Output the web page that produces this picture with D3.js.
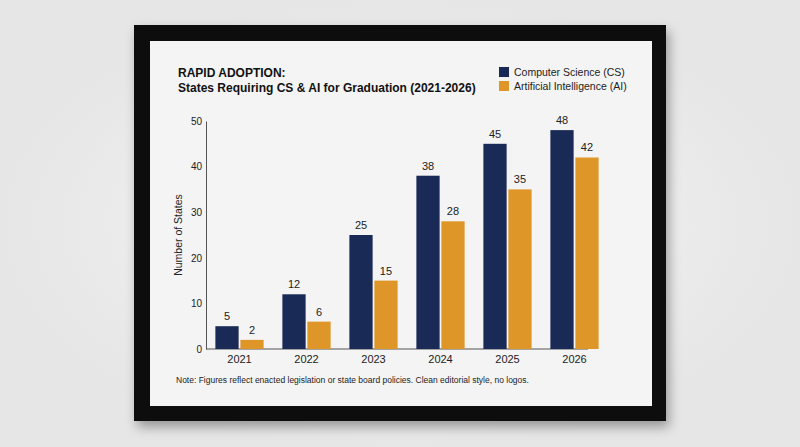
<!DOCTYPE html>
<html><head><meta charset="utf-8">
<script src="https://cdn.jsdelivr.net/npm/d3@7"></script>
<style>body{margin:0;background:#eeeeee;}svg{display:block;font-family:"Liberation Sans",Arial,sans-serif;}</style>
</head><body><svg id="c" width="800" height="447"></svg>
<script>
const years = ["2021","2022","2023","2024","2025","2026"];
const csValues = [5,12,25,38,45,48];
const aiValues = [2,6,15,28,35,42];
const seriesNames = ["Computer Science (CS)","Artificial Intelligence (AI)"];
const colors = ["#1a2a57","#de9628"];
const yTicks = [0,10,20,30,40,50];

const svg = d3.select("#c");
const defs = svg.append("defs");
const g0 = defs.append("radialGradient").attr("id","bg");
g0.append("stop").attr("offset","0%").attr("stop-color","#f7f7f7");
g0.append("stop").attr("offset","100%").attr("stop-color","#e6e6e6");
svg.append("rect").attr("width",800).attr("height",447).attr("fill","url(#bg)");
const f = defs.append("filter").attr("id","sh").attr("x","-10%").attr("y","-10%").attr("width","130%").attr("height","130%");
f.append("feDropShadow").attr("dx",3).attr("dy",6).attr("stdDeviation",6).attr("flood-opacity",0.35);
svg.append("rect").attr("x",134).attr("y",25).attr("width",532).attr("height",396).attr("fill","#0c0c0c").attr("filter","url(#sh)");
svg.append("rect").attr("x",150).attr("y",41).attr("width",502).attr("height",365).attr("fill","#f4f4f4");

const x = d3.scaleBand().domain(years).range([206,608]).paddingInner(0.28).paddingOuter(0.14);
const sub = d3.scaleBand().domain([0,1]).range([0,x.bandwidth()]).paddingInner(0.07);
const y = d3.scaleLinear().domain([0,50]).range([349,121]);

const gy = svg.append("g").attr("transform","translate(206,0)")
  .call(d3.axisLeft(y).tickValues(yTicks).tickSize(0).tickPadding(4));
gy.select(".domain").attr("stroke","#555");
gy.selectAll("text").attr("font-size",10).attr("fill","#222");
const gx = svg.append("g").attr("transform","translate(0,349)")
  .call(d3.axisBottom(x).tickSize(0).tickPadding(6));
gx.select(".domain").attr("stroke","#555").attr("d","M206,0H588");
gx.selectAll("text").attr("font-size",11).attr("fill","#222");

[csValues,aiValues].forEach((vals,s)=>{
  svg.append("g").selectAll("rect").data(years).join("rect")
    .attr("x",d=>x(d)+sub(s)).attr("width",sub.bandwidth())
    .attr("y",(d,i)=>y(vals[i])).attr("height",(d,i)=>y(0)-y(vals[i]))
    .attr("fill",colors[s]);
  svg.append("g").selectAll("text").data(years).join("text")
    .attr("x",d=>x(d)+sub(s)+sub.bandwidth()/2).attr("y",(d,i)=>y(vals[i])-6)
    .attr("text-anchor","middle").attr("font-size",11).attr("fill","#222")
    .text((d,i)=>vals[i]);
});

svg.append("text").attr("transform","translate(182,235) rotate(-90)").attr("text-anchor","middle")
  .attr("font-size",10.5).attr("fill","#222").text("Number of States");
svg.append("text").attr("x",178).attr("y",77).attr("font-size",12).attr("font-weight","bold").attr("fill","#111").text("RAPID ADOPTION:");
svg.append("text").attr("x",178).attr("y",92).attr("font-size",12).attr("font-weight","bold").attr("fill","#111").text("States Requiring CS & AI for Graduation (2021-2026)");
seriesNames.forEach((n,i)=>{
  svg.append("rect").attr("x",499).attr("y",67+i*14).attr("width",10).attr("height",10).attr("fill",colors[i]);
  svg.append("text").attr("x",514).attr("y",76+i*14).attr("font-size",10.5).attr("fill","#222").text(n);
});
svg.append("text").attr("x",176).attr("y",383).attr("font-size",8.5).attr("fill","#222")
  .text("Note: Figures reflect enacted legislation or state board policies. Clean editorial style, no logos.");
</script></body></html>
